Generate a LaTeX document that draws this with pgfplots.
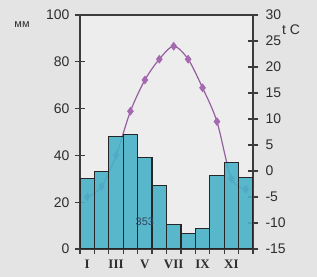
\documentclass[border=0pt]{standalone}
\usepackage{pgfplots}
\pgfplotsset{compat=1.18}
\usepackage{fontspec}
\setmainfont{Liberation Sans}
\newfontfamily\romanfont{Liberation Serif}
\definecolor{bg}{RGB}{228,228,228}
\definecolor{inbg}{RGB}{237,237,237}
\definecolor{barc}{RGB}{72,178,200}
\definecolor{tline}{RGB}{150,95,160}
\definecolor{tmark}{RGB}{165,105,175}
\definecolor{axc}{RGB}{60,60,60}
\definecolor{txt}{RGB}{45,45,45}
\definecolor{numc}{RGB}{50,70,95}
\begin{document}
\begin{tikzpicture}
\fill[bg] (0,0) rectangle (317bp,277bp);
\fill[inbg] (80bp,28bp) rectangle (253bp,262bp);
\begin{axis}[
  at={(80bp,28bp)}, anchor=south west,
  scale only axis, width=173bp, height=234bp,
  xmin=0.5, xmax=12.5, ymin=-15, ymax=30,
  axis x line=none,
  axis y line*=right,
  ytick={-15,-10,...,30},
  tick align=center, major tick length=10bp,
  y axis line style={axc, line width=1.2bp},
  every tick/.style={axc, line width=1.2bp},
  yticklabel style={font=\fontsize{14}{14}\selectfont, text=txt, xshift=4bp},
  /pgf/number format/assume math mode=true,
]
\addplot[tline, line width=1.2bp, smooth, mark=diamond*, mark size=3.5bp,
  mark options={fill=tmark, draw=tmark}] coordinates {
  (1,-5) (2,-3) (3,3) (4,11.5) (5,17.5) (6,21.5) (7,24) (8,21.5) (9,16) (10,9.5) (11,-1.5) (12,-3.5)};
\end{axis}
\begin{axis}[
  at={(80bp,28bp)}, anchor=south west,
  scale only axis, width=173bp, height=234bp,
  xmin=0.5, xmax=12.5, ymin=0, ymax=100,
  axis line style={axc, line width=1.2bp},
  every tick/.style={axc, line width=1.2bp},
  tick align=center, major tick length=10bp,
  xtick={0.5,1.5,...,12.5}, xticklabels={},
  extra x ticks={1,3,5,7,9,11},
  extra x tick labels={I,III,V,VII,IX,XI},
  extra x tick style={major tick length=0pt},
  xticklabel style={font=\romanfont\bfseries\fontsize{13}{13}\selectfont, text=txt, yshift=-7bp},
  ytick={0,20,...,100}, ytick pos=left, xtick pos=bottom,
  yticklabel style={font=\fontsize{14}{14}\selectfont, text=txt, xshift=-2bp},
  /pgf/number format/assume math mode=true,
]
\addplot[ybar, bar width=1, bar shift=0, fill=barc, fill opacity=0.9, draw=black!85, line width=1.2bp] coordinates {
  (1,30) (2,33) (3,48) (4,49) (5,39) (6,27) (7,10.5) (8,6.7) (9,8.7) (10,31.3) (11,37) (12,30.6)};
\node[font=\fontsize{11}{11}\selectfont, text=numc] at (axis cs:5,11.5) {353};
\end{axis}
\node[font=\fontsize{11}{11}\selectfont, text=txt] at (22bp,252bp) {мм};
\node[font=\fontsize{14}{14}\selectfont, text=txt] at (291bp,247bp) {t C};
\pgfresetboundingbox
\useasboundingbox (0,0) rectangle (317bp,277bp);
\end{tikzpicture}
\end{document}
